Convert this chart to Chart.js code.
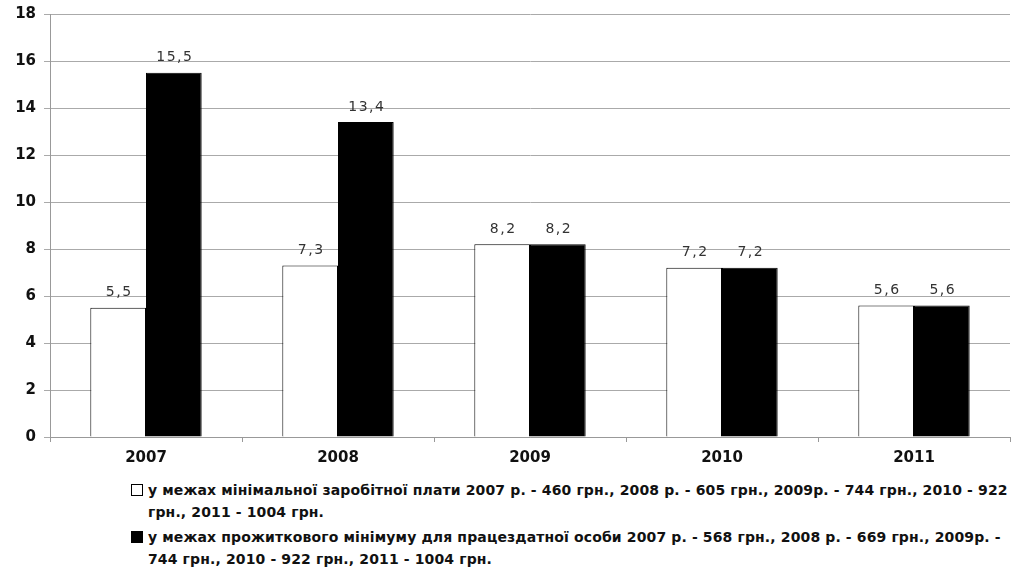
<!DOCTYPE html>
<html>
<head>
<meta charset="utf-8">
<script src="https://cdn.jsdelivr.net/npm/chart.js@4/dist/chart.umd.min.js"></script>
<style>
  html, body { margin: 0; padding: 0; background: #fff; }
  #wrap { position: relative; width: 1013px; height: 569px; }
  #chartBox { position: absolute; left: 0; top: 0; width: 1013px; height: 470px; }
  #legend { position: absolute; left: 130px; top: 479px; font-family: "DejaVu Sans", sans-serif; font-weight: bold; font-size: 14px; color: #111; }
  .item { position: relative; padding-left: 18px; line-height: 22px; margin-bottom: 3px; white-space: nowrap; }
  .sw { position: absolute; left: 1px; top: 5px; width: 12px; height: 12px; box-sizing: border-box; border: 1.5px solid #000; }
</style>
</head>
<body>
<div id="wrap">
  <div id="chartBox"><canvas id="c" width="1013" height="470"></canvas></div>
  <div id="legend"></div>
</div>
<script>
const years = ['2007', '2008', '2009', '2010', '2011'];
const minWage = [5.5, 7.3, 8.2, 7.2, 5.6];
const subsistence = [15.5, 13.4, 8.2, 7.2, 5.6];
const yTicks = [0, 2, 4, 6, 8, 10, 12, 14, 16, 18];
const seriesNames = [
  ['у межах мінімальної заробітної плати 2007 р. - 460 грн., 2008 р. - 605 грн.,  2009р. - 744 грн., 2010 - 922', 'грн., 2011 - 1004 грн.'],
  ['у межах прожиткового мінімуму для працездатної особи 2007 р. - 568 грн., 2008 р. - 669 грн., 2009р. -', '744 грн., 2010 - 922 грн., 2011 - 1004 грн.']
];

// legend under the plot, with the same line breaks as the captions
const legendEl = document.getElementById('legend');
const swatchFill = ['#fff', '#000'];
const lineEls = [];
seriesNames.forEach((lines, i) => {
  const d = document.createElement('div');
  d.className = 'item';
  const s = document.createElement('span');
  s.className = 'sw';
  s.style.background = swatchFill[i];
  d.appendChild(s);
  lines.forEach((t, k) => {
    if (k) d.appendChild(document.createElement('br'));
    const sp = document.createElement('span');
    sp.textContent = t;
    d.appendChild(sp);
    lineEls.push(sp);
  });
  legendEl.appendChild(d);
});
// adjust the caption spacing so the first line spans the plot width
const first = lineEls[0];
const target = 860;
const w = first.getBoundingClientRect().width;
const ls = (target - w) / first.textContent.length;
legendEl.style.letterSpacing = ls.toFixed(2) + 'px';

// value labels above each bar, with a decimal comma
const valueLabels = {
  id: 'valueLabels',
  afterDatasetsDraw(chart) {
    const ctx = chart.ctx;
    ctx.save();
    ctx.font = '14px "DejaVu Sans", sans-serif';
    ctx.letterSpacing = '1.5px';
    ctx.fillStyle = '#333';
    ctx.textAlign = 'center';
    ctx.textBaseline = 'middle';
    chart.data.datasets.forEach((ds, di) => {
      chart.getDatasetMeta(di).data.forEach((bar, i) => {
        ctx.fillText(String(ds.data[i]).replace('.', ','), bar.x + 1, bar.y - 15);
      });
    });
    ctx.restore();
  }
};

new Chart(document.getElementById('c'), {
  type: 'bar',
  data: {
    labels: years,
    datasets: [
      { label: seriesNames[0].join(' '), data: minWage, backgroundColor: '#fff', borderColor: '#000', borderWidth: 1 },
      { label: seriesNames[1].join(' '), data: subsistence, backgroundColor: '#000', borderColor: '#000', borderWidth: 1 }
    ]
  },
  options: {
    responsive: false,
    animation: false,
    layout: { padding: { top: 14, right: 3, left: 0, bottom: 0 } },
    datasets: { bar: { categoryPercentage: 0.58, barPercentage: 1.0 } },
    plugins: { legend: { display: false }, tooltip: { enabled: false } },
    scales: {
      x: {
        grid: { drawOnChartArea: false, drawTicks: true, tickLength: 5, color: '#999', offset: true },
        border: { color: '#999', width: 1 },
        ticks: { color: '#111', font: { family: '"DejaVu Sans", sans-serif', weight: 'bold', size: 15 }, padding: 7 },
        afterFit(s) { s.height = 33; s.paddingLeft = 0; s.paddingRight = 0; }
      },
      y: {
        min: 0, max: 18,
        afterBuildTicks(s) { s.ticks = yTicks.map(v => ({ value: v })); },
        grid: { color: '#aaa', tickLength: 6 },
        border: { color: '#999', width: 1 },
        ticks: { color: '#111', font: { family: '"DejaVu Sans", sans-serif', weight: 'bold', size: 15 }, padding: 8 },
        afterFit(s) { s.width = 50; s.paddingTop = 0; s.paddingBottom = 0; }
      }
    }
  },
  plugins: [valueLabels]
});
</script>
</body>
</html>
